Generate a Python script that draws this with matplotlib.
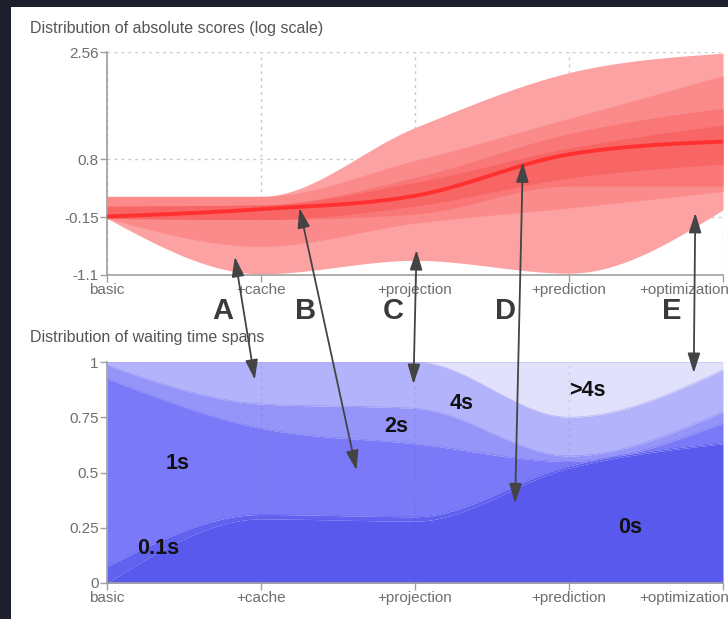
import numpy as np
import matplotlib
matplotlib.use("Agg")
import matplotlib.pyplot as plt
from matplotlib.patches import Rectangle, ConnectionPatch
from matplotlib.transforms import ScaledTranslation

plt.rcParams["font.family"] = ["Liberation Sans", "DejaVu Sans"]

STEPS = ["basic", "+cache", "+projection", "+prediction", "+optimization"]

# absolute scores: nested quantile bands (outer -> inner) and median
SCORE_MEDIAN = [-0.14, -0.02, 0.20, 0.88, 1.09]
SCORE_B1_LO = [-0.17, -1.08, -0.86, -1.07, -0.03]
SCORE_B1_HI = [0.19, 0.19, 1.32, 2.22, 2.54]
SCORE_B2_LO = [-0.17, -0.63, -0.25, 0.00, 0.27]
SCORE_B2_HI = [0.19, 0.19, 0.78, 1.47, 2.17]
SCORE_B3_LO = [-0.17, -0.19, -0.10, 0.36, 0.36]
SCORE_B3_HI = [0.03, 0.05, 0.50, 1.22, 1.64]
SCORE_B4_LO = [-0.17, -0.19, 0.03, 0.49, 0.72]
SCORE_B4_HI = [0.03, 0.05, 0.42, 0.98, 1.36]
SCORE_TICKS = [-1.1, -0.15, 0.8, 2.56]

# waiting time spans: share of requests per bucket
WAIT_LABELS = ["0s", "0.1s", "1s", "2s", "4s", ">4s"]
WAIT_0S = [0.0, 0.29, 0.28, 0.52, 0.63]
WAIT_01S = [0.075, 0.02, 0.02, 0.01, 0.005]
WAIT_1S = [0.85, 0.39, 0.33, 0.02, 0.09]
WAIT_2S = [0.06, 0.11, 0.16, 0.025, 0.05]
WAIT_4S = [0.015, 0.19, 0.21, 0.175, 0.19]
WAIT_GT4S = [0.0, 0.0, 0.0, 0.25, 0.035]
WAIT_TICKS = [0, 0.25, 0.5, 0.75, 1]

# annotations: letter, point in scores chart, point in waiting chart
NOTE_LETTERS = ["A", "B", "C", "D", "E"]
NOTE_TOP = [(0.83, -0.80), (1.25, 0.0), (2.01, -0.69), (2.70, 0.75), (3.82, -0.08)]
NOTE_BOT = [(0.96, 0.92), (1.62, 0.51), (1.99, 0.90), (2.65, 0.36), (3.81, 0.95)]
NOTE_X = [0.75, 1.29, 1.86, 2.59, 3.67]


def monotone(ys, num=60):
    """monotone cubic curve through the points (like d3 curveMonotoneX)"""
    ys = np.asarray(ys, float)
    xs = np.arange(len(ys), dtype=float)
    d = np.diff(ys)
    m = np.zeros_like(ys)
    for k in range(1, len(ys) - 1):
        s0, s1 = d[k - 1], d[k]
        p = (s0 + s1) / 2
        m[k] = (np.sign(s0) + np.sign(s1)) * min(abs(s0), abs(s1), 0.5 * abs(p))
    m[0] = (3 * d[0] - m[1]) / 2
    m[-1] = (3 * d[-1] - m[-2]) / 2
    out_x, out_y = [], []
    t = np.linspace(0, 1, num)
    for k in range(len(ys) - 1):
        h00 = 2 * t**3 - 3 * t**2 + 1
        h10 = t**3 - 2 * t**2 + t
        h01 = -2 * t**3 + 3 * t**2
        h11 = t**3 - t**2
        out_x.append(xs[k] + t)
        out_y.append(h00 * ys[k] + h10 * m[k] + h01 * ys[k + 1] + h11 * m[k + 1])
    return np.concatenate(out_x), np.concatenate(out_y)


def style_axes(ax):
    for side in ("top", "right"):
        ax.spines[side].set_visible(False)
    for side in ("left", "bottom"):
        ax.spines[side].set_color("#a0a0a0")
        ax.spines[side].set_linewidth(1.2)
    ax.tick_params(colors="#a0a0a0", labelcolor="#6e6e6e", labelsize=11, length=5, width=1, pad=1)
    ax.set_xlim(0, len(STEPS) - 1)
    ax.set_xticks(range(len(STEPS)), STEPS)
    last = ax.get_xticklabels()[-1]
    last.set_ha("right")
    last.set_transform(last.get_transform() + ScaledTranslation(6 / 100, 0, ax.figure.dpi_scale_trans))


fig = plt.figure(figsize=(7.28, 6.19), dpi=100, facecolor="#1b202c")
fig.add_artist(Rectangle((11 / 728, 0), 1, 1 - 7 / 619, transform=fig.transFigure,
                         facecolor="white", edgecolor="none", zorder=-5))

# ---- scores chart
ax1 = fig.add_axes([107 / 728, 1 - 275 / 619, 616 / 728, 223 / 619])
ax1.set_facecolor("none")
style_axes(ax1)
ax1.set_ylim(SCORE_TICKS[0], SCORE_TICKS[-1])
ax1.set_yticks(SCORE_TICKS, ["-1.1", "-0.15", "0.8", "2.56"])
ax1.grid(True, color="#c8c8c8", linestyle=(0, (2, 3)), linewidth=1)
ax1.set_axisbelow(True)

bands = [(SCORE_B1_LO, SCORE_B1_HI, "#fca2a2"),
         (SCORE_B2_LO, SCORE_B2_HI, "#fb8b8b"),
         (SCORE_B3_LO, SCORE_B3_HI, "#fa7777"),
         (SCORE_B4_LO, SCORE_B4_HI, "#f86565")]
for lo, hi, col in bands:
    x, ylo = monotone(lo)
    _, yhi = monotone(hi)
    ax1.fill_between(x, ylo, yhi, color=col, linewidth=0, zorder=2)
x, ymed = monotone(SCORE_MEDIAN)
ax1.plot(x, ymed, color="#ff3030", linewidth=2.8, zorder=3, solid_capstyle="butt")

fig.text(30 / 728, 1 - 33 / 619, "Distribution of absolute scores (log scale)",
         fontsize=11.5, color="#555555", va="baseline")

# ---- waiting time chart
ax2 = fig.add_axes([107 / 728, 1 - 583 / 619, 616 / 728, 221 / 619])
style_axes(ax2)
ax2.set_ylim(0, 1)
ax2.set_yticks(WAIT_TICKS, ["0", "0.25", "0.5", "0.75", "1"])

shares = [WAIT_0S, WAIT_01S, WAIT_1S, WAIT_2S, WAIT_4S, WAIT_GT4S]
colors = ["#5959ee", "#6262f1", "#7a7af8", "#9494f9", "#b3b3fb", "#e1e1fb"]
tops = np.cumsum(np.array(shares), axis=0)
bottom = np.zeros(len(STEPS))
for top, col in zip(tops, colors):
    x, ylo = monotone(bottom)
    _, yhi = monotone(top)
    ax2.fill_between(x, ylo, yhi, color=col, linewidth=0, zorder=2)
    ax2.plot(x, yhi, color="#4848e8", linewidth=0.6, alpha=0.25, zorder=3)
    bottom = top
for k in range(1, len(STEPS)):
    ax2.axvline(k, color="#3030a0", linestyle=(0, (2, 3)), linewidth=1, alpha=0.12, zorder=4)

wait_text = [("0s", 3.40, 0.25), ("0.1s", 0.33, 0.155), ("1s", 0.46, 0.54),
             ("2s", 1.88, 0.71), ("4s", 2.30, 0.81), (">4s", 3.12, 0.87)]
for label, tx, ty in wait_text:
    ax2.text(tx, ty, label, fontsize=15.5, fontweight="bold", color="#111111",
             ha="center", va="center", zorder=5)

fig.text(30 / 728, 1 - 342 / 619, "Distribution of waiting time spans",
         fontsize=11.5, color="#555555", va="baseline")

# ---- letters and connecting arrows
for letter, lx in zip(NOTE_LETTERS, NOTE_X):
    ax1.text(lx, -1.1 - 36 / 61.0, letter, fontsize=21, fontweight="bold", color="#3a3a3a",
             ha="center", va="center", clip_on=False)
for top_pt, bot_pt in zip(NOTE_TOP, NOTE_BOT):
    con = ConnectionPatch(xyA=bot_pt, coordsA=ax2.transData, xyB=top_pt, coordsB=ax1.transData,
                          arrowstyle="<|-|>,head_length=1.2,head_width=0.38", mutation_scale=10,
                          color="#444444", linewidth=1.3, zorder=10)
    fig.add_artist(con)

fig.savefig("out.png", dpi=100, facecolor=fig.get_facecolor())
